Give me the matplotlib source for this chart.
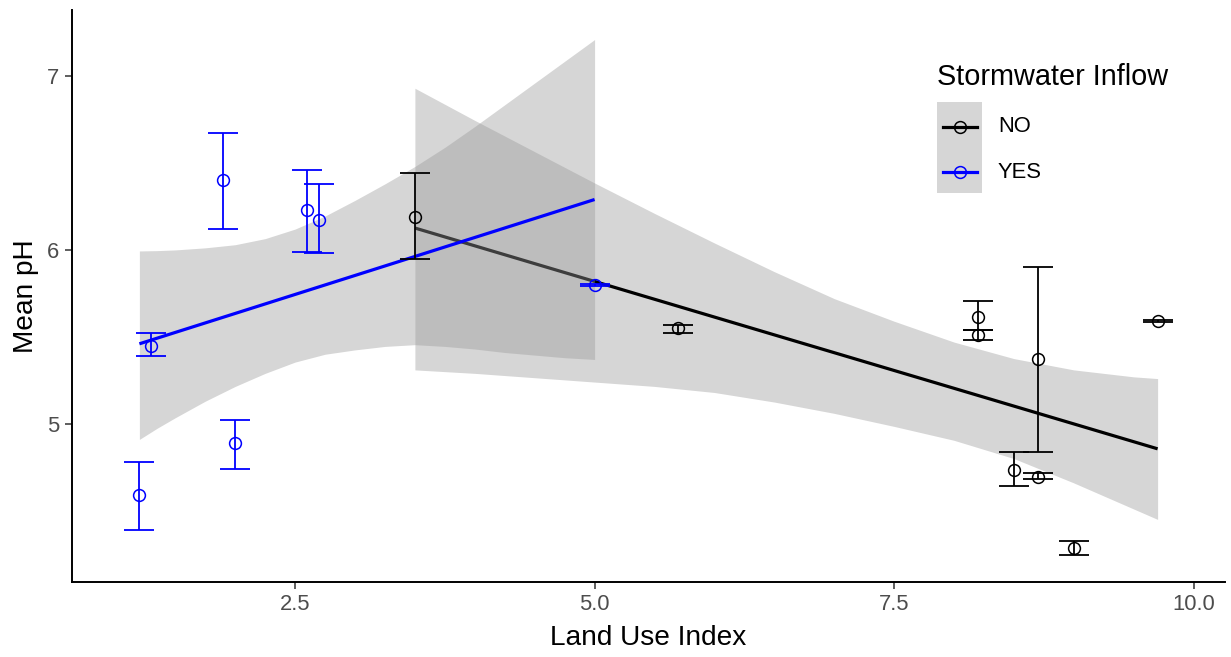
import matplotlib
matplotlib.use('Agg')
import matplotlib.pyplot as plt
from matplotlib.lines import Line2D
from matplotlib.patches import Rectangle

plt.rcParams['font.family'] = ['Liberation Sans', 'DejaVu Sans']

# site means of pH with the ends of their error bars
yes_x = [1.2, 1.3, 1.9, 2.0, 2.6, 2.7, 5.0]
yes_ph = [4.59, 5.45, 6.40, 4.89, 6.23, 6.17, 5.80]
yes_lo = [4.39, 5.39, 6.12, 4.74, 5.99, 5.98, 5.795]
yes_hi = [4.78, 5.52, 6.67, 5.02, 6.46, 6.38, 5.805]

no_x = [3.5, 5.7, 8.2, 8.2, 8.5, 8.7, 8.7, 9.0, 9.7]
no_ph = [6.19, 5.55, 5.615, 5.51, 4.735, 5.37, 4.695, 4.285, 5.59]
no_lo = [5.95, 5.52, 5.54, 5.48, 4.64, 4.84, 4.68, 4.245, 5.585]
no_hi = [6.44, 5.57, 5.705, 5.54, 4.84, 5.90, 4.715, 4.325, 5.595]

# linear fits (end points) and their confidence bands
yes_fit_x = [1.2, 5.0]
yes_fit_y = [5.46, 6.29]
no_fit_x = [3.5, 9.7]
no_fit_y = [6.126, 4.856]

yes_band_x = [1.2, 1.35, 1.5, 1.75, 2.0, 2.25, 2.5, 2.75, 3.0, 3.25, 3.5, 3.75, 4.0, 4.25, 4.5, 4.75, 5.0]
yes_band_lo = [4.91, 4.975, 5.035, 5.13, 5.215, 5.29, 5.355, 5.40, 5.425, 5.445, 5.455, 5.445,
               5.43, 5.41, 5.395, 5.38, 5.37]
yes_band_hi = [5.994, 5.996, 6.00, 6.012, 6.03, 6.065, 6.12, 6.195, 6.285, 6.38, 6.48, 6.59,
               6.71, 6.835, 6.96, 7.085, 7.21]

no_band_x = [3.5, 4.0, 4.5, 5.0, 5.5, 6.0, 6.5, 7.0, 7.5, 8.0, 8.5, 9.0, 9.5, 9.7]
no_band_lo = [5.31, 5.29, 5.265, 5.24, 5.215, 5.18, 5.125, 5.06, 4.985, 4.905, 4.80, 4.66, 4.51, 4.45]
no_band_hi = [6.93, 6.745, 6.565, 6.385, 6.21, 6.04, 5.875, 5.72, 5.59, 5.47, 5.375, 5.31, 5.27, 5.26]

x_ticks = [2.5, 5.0, 7.5, 10.0]
x_labels = ['2.5', '5.0', '7.5', '10.0']
y_ticks = [5, 6, 7]
y_labels = ['5', '6', '7']

W, H = 1231, 657
fig = plt.figure(figsize=(W / 100, H / 100), dpi=100)
ax = fig.add_axes([72 / W, 1 - 582 / H, 1153 / W, 572 / H])

cap = 0.125
groups = [
    ('black', no_x, no_ph, no_lo, no_hi, no_fit_x, no_fit_y, no_band_x, no_band_lo, no_band_hi),
    ('blue', yes_x, yes_ph, yes_lo, yes_hi, yes_fit_x, yes_fit_y, yes_band_x, yes_band_lo, yes_band_hi),
]

# smooth layer: ribbon then line, one group after the other
z = 1.0
for col, x, y, lo, hi, fx, fy, bx, blo, bhi in groups:
    ax.fill_between(bx, blo, bhi, color='#999999', alpha=0.4, lw=0, zorder=z)
    ax.plot(fx, fy, color=col, lw=2.3, zorder=z + 0.1, solid_capstyle='butt')
    z += 0.2

# error bars and points on top
for col, x, y, lo, hi, *_ in groups:
    ax.vlines(x, lo, hi, color=col, lw=1.3, zorder=3)
    ax.hlines(lo, [v - cap for v in x], [v + cap for v in x], color=col, lw=1.3, zorder=3)
    ax.hlines(hi, [v - cap for v in x], [v + cap for v in x], color=col, lw=1.3, zorder=3)
    ax.plot(x, y, 'o', mfc='none', mec=col, mew=1.1, ms=8.5, zorder=4)

ax.set_xlim(0.6375, 10.2625)
ax.set_ylim(4.09, 7.38)
ax.set_xticks(x_ticks)
ax.set_xticklabels(x_labels)
ax.set_yticks(y_ticks)
ax.set_yticklabels(y_labels)

for s in ['top', 'right']:
    ax.spines[s].set_visible(False)
for s in ['left', 'bottom']:
    ax.spines[s].set_linewidth(1.4)
ax.tick_params(length=5, width=1.1, color='#333333', labelcolor='#4D4D4D',
               labelsize=15.8, pad=4)

ax.set_xlabel('Land Use Index', fontsize=20.2)
ax.set_ylabel('Mean pH', fontsize=20.2)
ax.xaxis.set_label_coords(0.5, -0.098)
ax.yaxis.set_label_coords(-0.04, 0.5)
ax.xaxis.label.set_va('center')
ax.yaxis.label.set_va('center')

# legend, drawn by hand to get the grey key background
def fxy(px, py):
    return px / W, 1 - py / H

fig.text(*fxy(937, 77), 'Stormwater Inflow', fontsize=20.8, va='center', ha='left')
fig.add_artist(Rectangle(fxy(937, 193), 45 / W, 91 / H, transform=fig.transFigure,
                         facecolor='#D6D6D6', edgecolor='none'))
for col, label, py in [('black', 'NO', 127), ('blue', 'YES', 172)]:
    (x0, y0), (x1, _) = fxy(943, py), fxy(977, py)
    fig.add_artist(Line2D([x0, x1], [y0, y0], transform=fig.transFigure, color=col, lw=2.3))
    fig.add_artist(Line2D([(x0 + x1) / 2], [y0], transform=fig.transFigure, marker='o',
                          mfc='none', mec=col, mew=1.1, ms=8.5))
    fig.text(*fxy(998, py), label, fontsize=15.8, va='center', ha='left')

fig.savefig('out.png', dpi=100)
